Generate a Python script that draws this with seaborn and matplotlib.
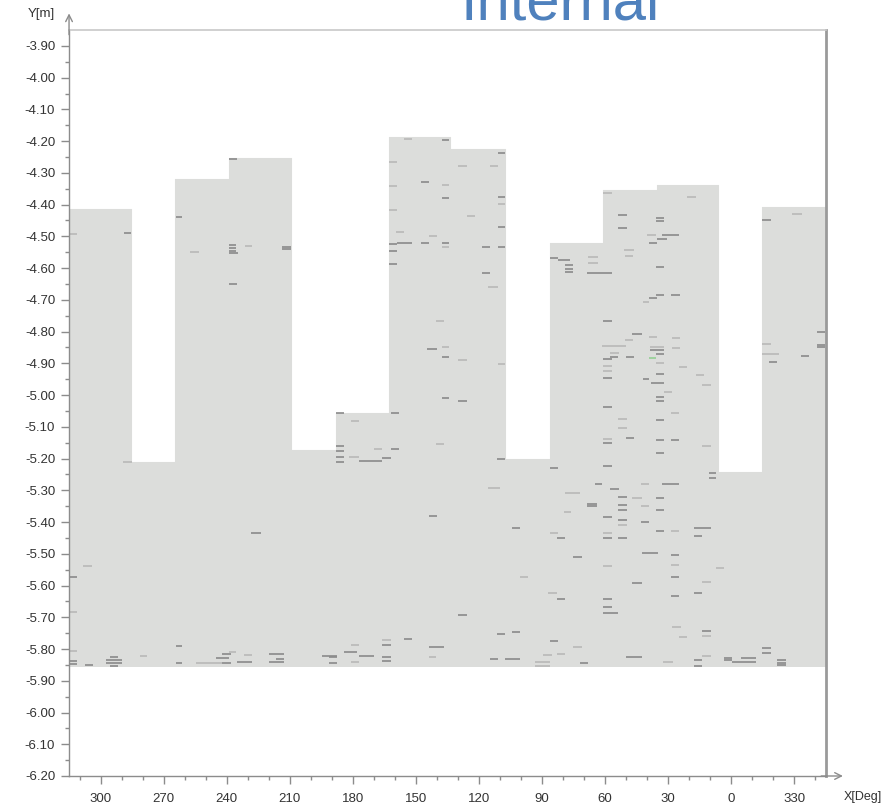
import numpy as np
import pandas as pd
import matplotlib
matplotlib.use('Agg')
import matplotlib.pyplot as plt
import seaborn as sns

# unrolled pipe wall: x runs from 315 deg (left) down to -45 deg (= 315, right)
seg_edges = [315, 285.3, 264.4, 238.8, 209.3, 188.0, 162.8, 133.9, 107.8,
             86.4, 61.2, 35.6, 6.2, -14.7, -45]
seg_top = [-4.415, -5.211, -4.320, -4.252, -5.172, -5.056, -4.187, -4.226,
           -5.201, -4.520, -4.354, -4.338, -5.242, -4.407]
floor_y = -5.857

# defect dashes: centre angle, depth, length (deg), tone (d=dark, f=faint, g=green)
dash_deg = [
    313.0, 287.0, 262.5, 255.2, 237.1, 237.1, 237.1, 236.6, 229.5, 211.5,
    211.5, 236.9, 236.9, 160.9, 153.8, 136.0, 160.9, 145.8, 136.0, 136.0,
    160.9, 157.6, 155.5, 160.9, 145.8, 141.9, 136.0, 136.0, 160.9, 160.9,
    138.6, 142.4, 136.0, 136.0, 136.0,
    109.5, 128.0, 113.0, 109.5, 123.9, 109.5, 109.5, 116.8, 109.5, 116.8,
    113.3, 109.5, 128.0, 128.0,
    84.5, 79.8, 77.4, 77.4, 77.4, 66.0, 66.0, 62.5, 59.1, 52.0,
    52.0, 48.5, 48.5, 33.8, 33.8, 37.8, 28.8, 33.0, 37.1, 33.8,
    18.8, 33.8, 26.4, 37.1, 40.6, 59.1, 44.7, 48.5, 37.1, 26.4,
    55.6, 55.6, 59.1, 56.0, 48.0, 35.4, 35.4, 33.8, 37.3, 26.4,
    33.8, 59.1, 59.1, 59.1, 40.6, 35.0, 33.8, 30.0, 22.8, 14.8,
    11.7, 33.8, 33.8, -16.8, -31.3, -16.8, -18.7, -19.9, -35.1, -42.7,
    -42.7, -42.7,
    287.4, 313.0, 306.4, 313.0, 313.0, 313.0, 313.0, 305.7, 293.4, 293.4,
    293.4, 293.4, 279.8, 262.5, 262.5, 248.3, 241.9, 240.0, 237.1, 240.0,
    231.4, 229.8, 216.2, 214.6, 216.2, 191.1, 189.4, 189.4, 181.1, 179.0,
    179.0, 173.5, 164.0, 164.0, 164.0, 164.0, 153.8, 140.3, 142.2, 226.0,
    141.9, 138.6, 186.1, 186.1, 186.1, 186.1, 186.1, 179.0, 179.5, 171.6,
    168.0, 164.0, 160.0, 160.0,
    109.7, 113.0, 102.6, 84.5, 84.5, 81.2, 75.6, 73.4, 66.3, 66.3,
    77.8, 63.2, 59.1, 59.1, 59.1, 59.1, 55.6, 52.0, 52.0, 48.0,
    52.0, 52.0, 52.0, 52.0, 52.0, 52.0, 59.1, 59.1, 59.1, 44.7,
    40.9, 40.9, 38.9, 44.7,
    33.8, 33.8, 33.8, 26.6, 26.6, 33.8, 33.8, 33.8, 28.8, 40.9,
    26.6, 26.6, 26.6, 26.6, 26.6, 13.6, 15.7, 11.7, 8.9, 8.9,
    5.3, 11.7, 15.7, 59.1, 59.1, 57.7, 59.1, 81.2, 85.3, 98.8,
    128.0, 109.7, 102.6, 84.5, 73.4, 113.0, 104.2, 90.0, 90.0, 87.6,
    81.2, 70.3, 46.1, 30.0, 25.9, 22.8, 15.7, 15.7, 11.7, 11.7,
    11.7, 1.5, 1.5, -6.1, -8.3, -16.8, -16.8, -23.9, -23.9, -23.9,
]
dash_y = [
    -4.492, -4.490, -4.439, -4.549, -4.527, -4.538, -4.546, -4.552, -4.530, -4.533,
    -4.541, -4.650, -4.255, -4.265, -4.193, -4.196, -4.341, -4.330, -4.338, -4.379,
    -4.417, -4.486, -4.521, -4.524, -4.521, -4.500, -4.521, -4.533, -4.546, -4.587,
    -4.766, -4.855, -4.848, -4.880, -5.009,
    -4.237, -4.278, -4.278, -4.376, -4.436, -4.398, -4.470, -4.533, -4.533, -4.615,
    -4.659, -4.902, -4.889, -5.020,
    -4.568, -4.574, -4.590, -4.603, -4.612, -4.565, -4.584, -4.615, -4.363, -4.432,
    -4.473, -4.543, -4.562, -4.442, -4.451, -4.495, -4.495, -4.508, -4.521, -4.596,
    -4.376, -4.685, -4.685, -4.694, -4.707, -4.766, -4.807, -4.826, -4.817, -4.820,
    -4.845, -4.867, -4.886, -4.880, -4.880, -4.848, -4.858, -4.870, -4.883, -4.852,
    -4.900, -4.910, -4.924, -4.946, -4.950, -4.962, -4.934, -4.990, -4.911, -4.937,
    -4.968, -5.006, -5.020, -4.448, -4.430, -4.839, -4.870, -4.896, -4.877, -4.801,
    -4.842, -4.848,
    -5.211, -5.573, -5.538, -5.683, -5.806, -5.838, -5.847, -5.850, -5.825, -5.835,
    -5.845, -5.852, -5.822, -5.790, -5.844, -5.844, -5.828, -5.816, -5.810, -5.844,
    -5.841, -5.819, -5.816, -5.831, -5.841, -5.822, -5.825, -5.844, -5.810, -5.787,
    -5.841, -5.822, -5.771, -5.787, -5.825, -5.838, -5.768, -5.793, -5.825, -5.434,
    -5.381, -5.154, -5.058, -5.160, -5.176, -5.195, -5.210, -5.081, -5.195, -5.208,
    -5.170, -5.198, -5.170, -5.058,
    -5.201, -5.293, -5.419, -5.230, -5.434, -5.450, -5.308, -5.510, -5.343, -5.349,
    -5.368, -5.280, -5.037, -5.138, -5.151, -5.223, -5.296, -5.075, -5.104, -5.135,
    -5.321, -5.346, -5.362, -5.393, -5.409, -5.450, -5.384, -5.434, -5.450, -5.324,
    -5.400, -5.349, -5.497, -5.592,
    -5.078, -5.141, -5.182, -5.056, -5.141, -5.324, -5.362, -5.428, -5.280, -5.280,
    -5.428, -5.504, -5.535, -5.573, -5.633, -5.419, -5.444, -5.160, -5.245, -5.261,
    -5.545, -5.589, -5.623, -5.643, -5.667, -5.686, -5.538, -5.643, -5.623, -5.573,
    -5.693, -5.753, -5.746, -5.775, -5.793, -5.831, -5.831, -5.841, -5.853, -5.819,
    -5.816, -5.844, -5.825, -5.841, -5.731, -5.762, -5.834, -5.853, -5.822, -5.743,
    -5.759, -5.828, -5.834, -5.841, -5.828, -5.797, -5.813, -5.834, -5.844, -5.850,
]
dash_len = [
    3.3, 3.3, 2.8, 4.3, 3.3, 3.3, 3.3, 4.3, 3.3, 4.3,
    4.3, 3.8, 3.8, 3.8, 3.8, 3.3, 3.8, 3.8, 3.3, 3.3,
    3.8, 3.8, 7.1, 3.8, 3.8, 3.8, 3.3, 3.3, 3.8, 3.8,
    3.8, 4.7, 3.3, 3.3, 3.3,
    3.3, 4.3, 3.8, 3.3, 3.8, 3.3, 3.3, 3.8, 3.3, 3.8,
    4.7, 3.3, 4.3, 4.3,
    3.8, 5.7, 3.8, 3.8, 3.8, 4.7, 4.7, 11.9, 4.3, 4.3,
    4.3, 4.7, 3.8, 3.8, 3.8, 4.3, 8.0, 4.3, 3.8, 3.8,
    4.3, 3.8, 4.3, 3.8, 3.3, 4.3, 4.7, 3.8, 3.8, 3.8,
    11.4, 4.7, 4.3, 3.8, 3.8, 7.0, 7.0, 3.8, 3.3, 3.8,
    3.8, 4.3, 4.3, 4.3, 3.3, 6.2, 3.8, 3.8, 3.8, 3.8,
    4.3, 3.8, 3.8, 4.3, 4.7, 4.3, 8.0, 3.8, 3.8, 3.8,
    3.8, 3.8,
    4.3, 3.3, 4.3, 3.3, 3.3, 3.3, 3.3, 3.8, 3.8, 7.6,
    7.6, 3.8, 3.3, 2.8, 2.8, 12.3, 6.2, 4.3, 3.3, 4.3,
    7.1, 3.8, 7.1, 3.8, 7.1, 7.1, 3.8, 3.8, 6.2, 3.8,
    3.8, 7.1, 4.3, 4.3, 4.3, 4.3, 3.8, 7.1, 3.3, 4.7,
    3.8, 3.8, 3.8, 3.8, 3.8, 3.8, 3.8, 3.8, 4.7, 10.9,
    3.8, 4.3, 3.8, 3.8,
    3.8, 5.7, 3.8, 3.8, 3.8, 3.8, 7.1, 4.3, 4.3, 4.3,
    3.3, 3.8, 4.3, 4.3, 4.3, 4.3, 4.7, 4.3, 4.3, 3.8,
    4.3, 4.3, 4.3, 4.3, 4.3, 4.3, 4.3, 4.3, 4.3, 4.7,
    3.8, 3.8, 7.6, 4.7,
    3.8, 3.8, 3.8, 3.8, 3.8, 3.8, 3.8, 3.8, 8.0, 3.8,
    3.8, 3.8, 3.8, 3.8, 3.8, 8.0, 3.8, 4.3, 3.3, 3.3,
    3.8, 4.3, 3.8, 4.3, 4.3, 7.1, 4.3, 3.8, 4.3, 3.8,
    4.3, 3.8, 3.8, 3.8, 4.3, 3.8, 7.1, 7.1, 7.1, 4.3,
    3.8, 3.8, 7.6, 4.7, 4.3, 3.8, 3.8, 3.8, 4.3, 4.3,
    4.3, 3.8, 3.8, 11.4, 7.1, 4.3, 4.3, 4.3, 4.3, 4.3,
]
dash_tone = list(
    "fddfddddfd" "dddffdfdfd" "ffdddfdfdd" "fdfdd"
    "dffdffdddd" "fffd"
    "dddddffdfd" "dffddfdddd" "fdddfddfff" "ffdddfddgf" "fffddddfff" "fdddfffddd" "dd"
    "fdfffddddd" "ddfddfddfd" "dfdddddddf" "fdfdddddfd" "dfdddddffd" "fddd"
    "dfddfdfddd" "fddfdddffd" "ddddfddfdf" "dfdd"
    "dddfdddddf" "fdfddddfdd" "ffddddfdff" "ddddfddfff" "fddfffddfd" "fddddddddd"
)
assert len(dash_deg) == len(dash_y) == len(dash_len) == len(dash_tone)

x_ticks = [300, 270, 240, 210, 180, 150, 120, 90, 60, 30, 0, -30]
x_labels = ['300', '270', '240', '210', '180', '150', '120', '90', '60', '30', '0', '330']
y_ticks = [-3.9, -4.0, -4.1, -4.2, -4.3, -4.4, -4.5, -4.6, -4.7, -4.8, -4.9, -5.0,
           -5.1, -5.2, -5.3, -5.4, -5.5, -5.6, -5.7, -5.8, -5.9, -6.0, -6.1, -6.2]

sns.set_style('white')
plt.rcParams['font.family'] = ['Liberation Sans', 'DejaVu Sans']

fill_color = '#dcdddb'
axis_color = '#8c8c8c'
tone_color = {'d': '#8a8a8a', 'f': '#b8b8b8', 'g': '#93cf93'}

fig = plt.figure(figsize=(8.84, 8.09), dpi=100)
ax = fig.add_axes([0.0781, 0.0408, 0.8563, 0.9221])

profile = pd.DataFrame({'deg': seg_edges, 'top': seg_top + [seg_top[-1]]})
ax.fill_between(profile['deg'], profile['top'], floor_y, step='post',
                color=fill_color, lw=0, zorder=1)
sns.lineplot(data=profile, x='deg', y='top', drawstyle='steps-post', sort=False,
             color=fill_color, lw=0.8, ax=ax, zorder=1)

dashes = pd.DataFrame({'deg': dash_deg, 'y': dash_y, 'len': dash_len, 'tone': dash_tone})
for tone, grp in dashes.groupby('tone'):
    ax.hlines(grp['y'], grp['deg'] - grp['len'] / 2, grp['deg'] + grp['len'] / 2,
              color=tone_color[tone], lw=1.2, zorder=2)

ax.set_xlim(315, -45)
ax.set_ylim(-6.20, -3.85)
ax.set_xticks(x_ticks)
ax.set_xticklabels(x_labels)
ax.set_xticks(np.arange(310, -45, -10), minor=True)
ax.set_yticks(y_ticks)
ax.set_yticklabels([f'{v:.2f}' for v in y_ticks])
ax.set_yticks(np.arange(-6.15, -3.86, 0.1), minor=True)
ax.set_xlabel('')
ax.set_ylabel('')

ax.tick_params(which='both', bottom=True, left=True, color=axis_color)
ax.tick_params(which='major', length=6, width=1, labelsize=9.5,
               labelcolor='#333333', pad=4)
ax.tick_params(which='minor', length=3, width=1)
ax.tick_params(axis='x', which='major', pad=6)

for side in ['left', 'bottom']:
    ax.spines[side].set_color(axis_color)
    ax.spines[side].set_linewidth(1)
ax.spines['top'].set_color('#c8c8c8')
ax.spines['top'].set_linewidth(1.2)
ax.spines['right'].set_color('#9a9a9a')
ax.spines['right'].set_linewidth(2)

# axis arrows
ax.annotate('', xy=(0, 1.026), xytext=(0, 0.99), xycoords='axes fraction',
            arrowprops=dict(arrowstyle='->', color=axis_color, lw=1, mutation_scale=12))
ax.annotate('', xy=(1.026, 0), xytext=(0.99, 0), xycoords='axes fraction',
            arrowprops=dict(arrowstyle='->', color=axis_color, lw=1, mutation_scale=12))

fig.text(41 / 884, 1 - 14 / 809, 'Y[m]', ha='center', va='center',
         fontsize=9.5, color='#333333')
fig.text(882 / 884, 1 - 797 / 809, 'X[Deg]', ha='right', va='center',
         fontsize=9, color='#333333')
# title is clipped by the top edge, as in the source image
fig.text(560 / 884, 1 - 19 / 809, 'Internal', ha='center', va='baseline',
         fontsize=43, color='#4f81bd')

fig.savefig('out.png', dpi=100)
